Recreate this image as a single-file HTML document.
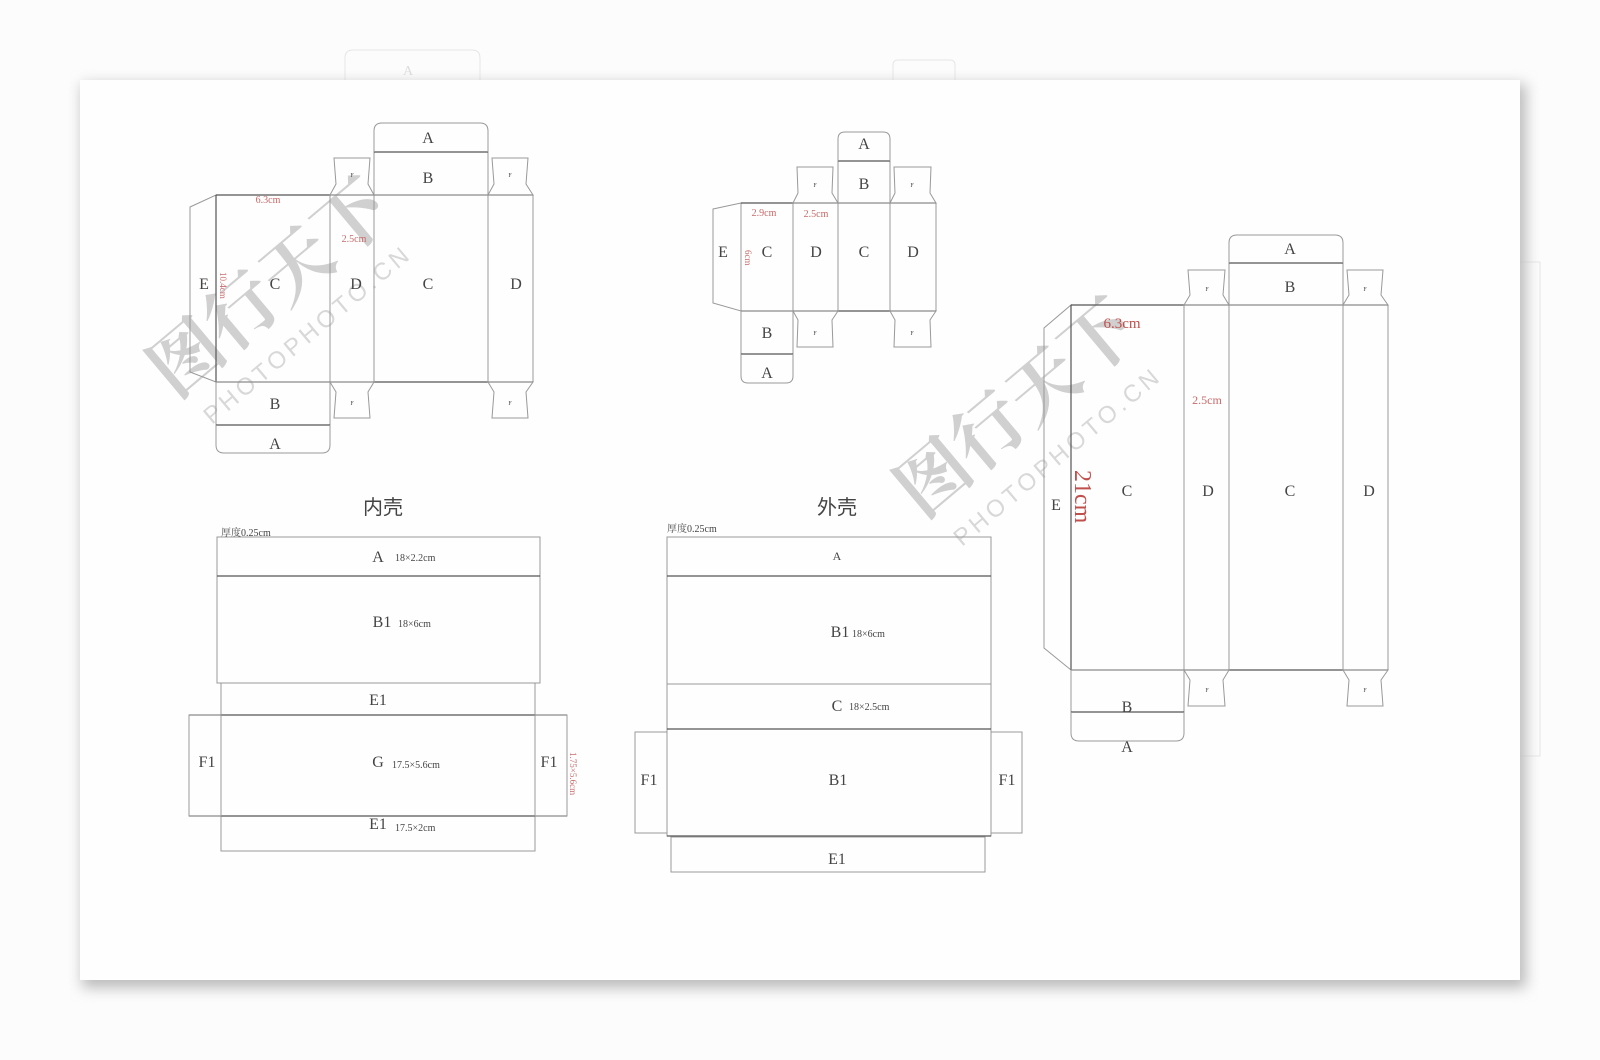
<!DOCTYPE html>
<html><head><meta charset="utf-8"><style>
html,body{margin:0;padding:0;background:#fcfcfc;width:1600px;height:1060px;overflow:hidden}
svg{display:block}
text{font-family:"Liberation Serif","Noto Serif CJK SC",serif;fill:#444}
.r{fill:#c0504d}
.p{fill:#c86a6a}
.l{fill:none;stroke:#999;stroke-width:1}
.d{fill:none;stroke:#555;stroke-width:1.2}
</style></head><body>
<svg width="1600" height="1060" viewBox="0 0 1600 1060" xmlns="http://www.w3.org/2000/svg">
<defs>
<filter id="sh" x="-5%" y="-5%" width="110%" height="112%"><feGaussianBlur stdDeviation="7"/></filter>
</defs>
<g stroke="#e6e6e6" fill="none">
<path d="M345,85 V58 Q345,50 353,50 H472 Q480,50 480,58 V85"/>
<path d="M893,85 V65 Q893,60 898,60 H950 Q955,60 955,65 V85"/>
<path d="M1520,262 H1540 V756 H1520"/>
</g>
<text x="408" y="75" font-size="14" text-anchor="middle" style="fill:#ddd">A</text>
<rect x="82" y="84" width="1444" height="904" fill="#bbb" filter="url(#sh)"/>
<rect x="80" y="80" width="1440" height="900" fill="#fefefe"/>

<g opacity="0.45">
<text x="0" y="0" font-size="72" transform="translate(175,400) rotate(-40)" style="fill:#999;font-family:'Noto Serif CJK SC',serif;font-weight:bold">图行天下</text>
<text x="0" y="0" font-size="24" letter-spacing="4" transform="translate(212,425) rotate(-40)" style="fill:#aaa;font-family:'Liberation Sans',sans-serif">PHOTOPHOTO.CN</text>
<text x="0" y="0" font-size="72" transform="translate(922,520) rotate(-40)" style="fill:#999;font-family:'Noto Serif CJK SC',serif;font-weight:bold">图行天下</text>
<text x="0" y="0" font-size="24" letter-spacing="4" transform="translate(962,547) rotate(-40)" style="fill:#aaa;font-family:'Liberation Sans',sans-serif">PHOTOPHOTO.CN</text>
</g>

<g>
<polygon class="l" points="190,207 216,195 216,382 190,372"/>
<rect class="l" x="216" y="195" width="272" height="187"/>
<line class="l" x1="330" y1="195" x2="330" y2="382"/>
<line class="l" x1="374" y1="195" x2="374" y2="382"/>
<line class="l" x1="488" y1="195" x2="488" y2="382"/>
<rect class="l" x="488" y="195" width="45" height="187"/>
<line class="d" x1="216" y1="195" x2="533" y2="195"/>
<line class="d" x1="216" y1="195" x2="216" y2="382"/>
<line class="d" x1="216" y1="382" x2="533" y2="382"/>
<rect class="l" x="374" y="152" width="114" height="43"/>
<line class="d" x1="374" y1="152" x2="488" y2="152"/>
<path class="l" d="M374,152 V131 Q374,123 382,123 H480 Q488,123 488,131 V152"/>
<polygon class="l" points="330,195 336,184 334,158 370,158 368,184 374,195"/>
<polygon class="l" points="488,195 494,184 492,158 528,158 526,184 533,195"/>
<rect class="l" x="216" y="382" width="114" height="43"/>
<line class="d" x1="216" y1="425" x2="330" y2="425"/>
<path class="l" d="M216,425 V445 Q216,453 224,453 H322 Q330,453 330,445 V425"/>
<polygon class="l" points="330,382 336,392 334,418 370,418 368,392 374,382"/>
<polygon class="l" points="488,382 494,392 492,418 528,418 526,392 533,382"/>
<g font-size="16" text-anchor="middle">
<text x="204" y="289">E</text><text x="275" y="289">C</text><text x="356" y="289">D</text>
<text x="428" y="289">C</text><text x="516" y="289">D</text>
<text x="428" y="183">B</text><text x="428" y="143">A</text>
<text x="275" y="409">B</text><text x="275" y="449">A</text>
</g>
<g font-size="6" text-anchor="middle"><text x="352" y="177">F</text><text x="510" y="177">F</text><text x="352" y="405">F</text><text x="510" y="405">F</text></g>
<text class="p" x="268" y="203" font-size="10" text-anchor="middle">6.3cm</text>
<text class="p" x="354" y="242" font-size="10" text-anchor="middle">2.5cm</text>
<text class="p" font-size="9" transform="translate(220,272) rotate(90)">10.4cm</text>
</g>

<g>
<polygon class="l" points="713,209 741,203 741,311 713,303"/>
<rect class="l" x="741" y="203" width="195" height="108"/>
<line class="l" x1="793" y1="203" x2="793" y2="311"/>
<line class="l" x1="838" y1="203" x2="838" y2="311"/>
<line class="l" x1="890" y1="203" x2="890" y2="311"/>
<line class="d" x1="741" y1="203" x2="936" y2="203"/>
<line class="d" x1="741" y1="311" x2="936" y2="311"/>
<rect class="l" x="838" y="161" width="52" height="42"/>
<line class="d" x1="838" y1="161" x2="890" y2="161"/>
<path class="l" d="M838,161 V139 Q838,132 845,132 H883 Q890,132 890,139 V161"/>
<polygon class="l" points="793,203 798,193 797,167 833,167 832,193 838,203"/>
<polygon class="l" points="890,203 895,193 894,167 931,167 930,193 936,203"/>
<rect class="l" x="741" y="311" width="52" height="43"/>
<line class="d" x1="741" y1="354" x2="793" y2="354"/>
<path class="l" d="M741,354 V376 Q741,383 748,383 H786 Q793,383 793,376 V354"/>
<polygon class="l" points="793,311 798,320 797,347 833,347 832,320 838,311"/>
<polygon class="l" points="890,311 895,320 894,347 931,347 930,320 936,311"/>
<g font-size="16" text-anchor="middle">
<text x="723" y="257">E</text><text x="767" y="257">C</text><text x="816" y="257">D</text>
<text x="864" y="257">C</text><text x="913" y="257">D</text>
<text x="864" y="189">B</text><text x="864" y="149">A</text>
<text x="767" y="338">B</text><text x="767" y="378">A</text>
</g>
<g font-size="6" text-anchor="middle"><text x="815" y="187">F</text><text x="912" y="187">F</text><text x="815" y="335">F</text><text x="912" y="335">F</text></g>
<text class="p" x="764" y="216" font-size="10" text-anchor="middle">2.9cm</text>
<text class="p" x="816" y="217" font-size="10" text-anchor="middle">2.5cm</text>
<text class="p" font-size="9" transform="translate(745,250) rotate(90)">6cm</text>
</g>

<g>
<polygon class="l" points="1044,328 1071,305 1071,670 1044,648"/>
<rect class="l" x="1071" y="305" width="317" height="365"/>
<line class="l" x1="1184" y1="305" x2="1184" y2="670"/>
<line class="l" x1="1229" y1="305" x2="1229" y2="670"/>
<line class="l" x1="1343" y1="305" x2="1343" y2="670"/>
<line class="d" x1="1071" y1="305" x2="1388" y2="305"/>
<line class="d" x1="1071" y1="305" x2="1071" y2="670"/>
<line class="d" x1="1071" y1="670" x2="1388" y2="670"/>
<rect class="l" x="1229" y="263" width="114" height="42"/>
<line class="d" x1="1229" y1="263" x2="1343" y2="263"/>
<path class="l" d="M1229,263 V243 Q1229,235 1237,235 H1335 Q1343,235 1343,243 V263"/>
<polygon class="l" points="1184,305 1190,295 1188,270 1225,270 1223,295 1229,305"/>
<polygon class="l" points="1343,305 1349,295 1347,270 1383,270 1381,295 1388,305"/>
<rect class="l" x="1071" y="670" width="113" height="42"/>
<line class="d" x1="1071" y1="712" x2="1184" y2="712"/>
<path class="l" d="M1071,712 V733 Q1071,741 1079,741 H1176 Q1184,741 1184,733 V712"/>
<polygon class="l" points="1184,670 1190,680 1188,706 1225,706 1223,680 1229,670"/>
<polygon class="l" points="1343,670 1349,680 1347,706 1383,706 1381,680 1388,670"/>
<g font-size="16" text-anchor="middle">
<text x="1056" y="510">E</text><text x="1127" y="496">C</text><text x="1208" y="496">D</text>
<text x="1290" y="496">C</text><text x="1369" y="496">D</text>
<text x="1290" y="292">B</text><text x="1290" y="254">A</text>
<text x="1127" y="712">B</text><text x="1127" y="752">A</text>
</g>
<g font-size="6" text-anchor="middle"><text x="1207" y="291">F</text><text x="1365" y="291">F</text><text x="1207" y="692">F</text><text x="1365" y="692">F</text></g>
<text class="r" x="1122" y="328" font-size="15" text-anchor="middle">6.3cm</text>
<text class="p" x="1207" y="404" font-size="12" text-anchor="middle">2.5cm</text>
<text class="r" font-size="24" transform="translate(1075,470) rotate(90)">21cm</text>
</g>

<g>
<text x="383" y="514" font-size="20" text-anchor="middle" style="font-family:'Noto Sans CJK SC',sans-serif;fill:#444">内壳</text>
<text x="221" y="536" font-size="10">厚度0.25cm</text>
<rect class="l" x="217" y="537" width="323" height="146"/>
<line class="d" x1="217" y1="576" x2="540" y2="576"/>
<rect class="l" x="221" y="683" width="314" height="168"/>
<line class="d" x1="189" y1="715" x2="567" y2="715"/>
<line class="d" x1="189" y1="816" x2="567" y2="816"/>
<rect class="l" x="189" y="715" width="32" height="101"/>
<rect class="l" x="535" y="715" width="32" height="101"/>
<g font-size="16" text-anchor="middle">
<text x="378" y="562">A</text><text x="382" y="627">B1</text><text x="378" y="705">E1</text>
<text x="378" y="767">G</text><text x="207" y="767">F1</text><text x="549" y="767">F1</text><text x="378" y="829">E1</text>
</g>
<g font-size="10" class="p">
<text x="395" y="561">18×2.2cm</text><text x="398" y="627">18×6cm</text>
<text x="392" y="768">17.5×5.6cm</text><text x="395" y="831">17.5×2cm</text>
</g>
<text class="p" font-size="9" transform="translate(570,752) rotate(90)">1.75×5.6cm</text>
</g>

<g>
<text x="837" y="514" font-size="20" text-anchor="middle" style="font-family:'Noto Sans CJK SC',sans-serif;fill:#444">外壳</text>
<text x="667" y="532" font-size="10">厚度0.25cm</text>
<rect class="l" x="667" y="537" width="324" height="299"/>
<line class="d" x1="667" y1="576" x2="991" y2="576"/>
<line class="l" x1="667" y1="684" x2="991" y2="684"/>
<line class="d" x1="667" y1="729" x2="991" y2="729"/>
<line class="d" x1="667" y1="836" x2="991" y2="836"/>
<rect class="l" x="635" y="732" width="32" height="101"/>
<rect class="l" x="991" y="732" width="31" height="101"/>
<rect class="l" x="671" y="837" width="314" height="35"/>
<g font-size="16" text-anchor="middle">
<text x="837" y="560" font-size="12">A</text><text x="840" y="637">B1</text><text x="837" y="711">C</text>
<text x="838" y="785">B1</text><text x="649" y="785">F1</text><text x="1007" y="785">F1</text><text x="837" y="864">E1</text>
</g>
<g font-size="10" class="p"><text x="852" y="637">18×6cm</text><text x="849" y="710">18×2.5cm</text></g>
</g>
</svg>
</body></html>
